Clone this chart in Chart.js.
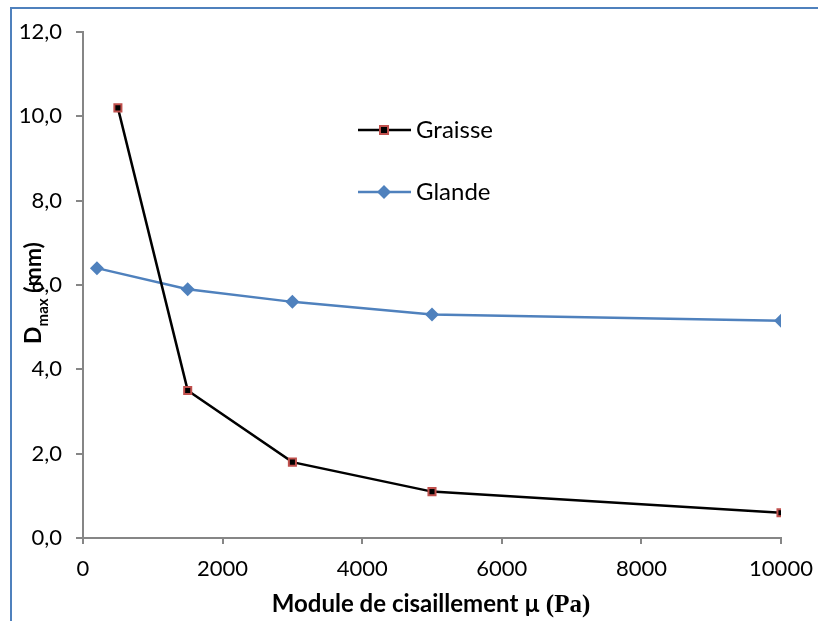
<!DOCTYPE html>
<html>
<head>
<meta charset="utf-8">
<script src="https://cdn.jsdelivr.net/npm/chart.js@4"></script>
<style>
  body { margin: 0; background: #fff; }
  canvas { display: block; }
</style>
</head>
<body>
<canvas id="myChart" width="818" height="621"></canvas>
<script>
var graisseX = [500, 1500, 3000, 5000, 10000];
var graisseY = [10.2, 3.5, 1.8, 1.1, 0.6];
var glandeX = [200, 1500, 3000, 5000, 10000];
var glandeY = [6.4, 5.9, 5.6, 5.3, 5.15];
var seriesNames = ["Graisse", "Glande"];
var xTicks = [0, 2000, 4000, 6000, 8000, 10000];
var yTicks = [0, 2, 4, 6, 8, 10, 12];

function pts(xs, ys) {
    var out = [];
    for (var i = 0; i < xs.length; i++) out.push({x: xs[i], y: ys[i]});
    return out;
}

var axisGrey = "#868686";
var blue = "#4F81BD";
var red = "#C0504D";

// frame, titles and legend drawn by hand
var decor = {
    id: 'decor',
    afterDraw: function(chart) {
        var c = chart.ctx;
        c.save();
        c.strokeStyle = blue;
        c.lineWidth = 2;
        c.beginPath();
        c.moveTo(11, 621);
        c.lineTo(11, 8);
        c.lineTo(818, 8);
        c.stroke();

        // x title
        c.fillStyle = "#000";
        c.textBaseline = "alphabetic";
        var t1 = "Module de cisaillement \u00b5 ";
        var t2 = "(Pa)";
        c.font = "bold 25px 'Liberation Serif'";
        var w2 = c.measureText(t2).width;
        c.font = "bold 24px Lato";
        var w1 = c.measureText(t1).width;
        var x0 = 431 - (w1 + w2) / 2;
        c.textAlign = "left";
        c.fillText(t1, x0, 612);
        c.font = "bold 25px 'Liberation Serif'";
        c.fillText(t2, x0 + w1, 612);

        // y title with subscript
        c.translate(41, 293);
        c.rotate(-Math.PI / 2);
        c.font = "bold 23px Lato";
        var a = "D", b = "max", d = " (mm)";
        var wa = c.measureText(a).width;
        c.font = "bold 15px Lato";
        var wb = c.measureText(b).width;
        c.font = "bold 23px Lato";
        var wd = c.measureText(d).width;
        var sx = -(wa + wb + wd) / 2;
        c.fillText(a, sx, 0);
        c.font = "bold 15px Lato";
        c.fillText(b, sx + wa, 7);
        c.font = "bold 23px Lato";
        c.fillText(d, sx + wa + wb, 0);
        c.restore();

        // legend
        c.save();
        var items = [
            {name: seriesNames[0], y: 130, color: "#000"},
            {name: seriesNames[1], y: 192, color: blue}
        ];
        items.forEach(function(it, i) {
            c.strokeStyle = it.color;
            c.lineWidth = 2.5;
            c.beginPath();
            c.moveTo(358, it.y);
            c.lineTo(411, it.y);
            c.stroke();
            var mx = 384;
            if (i === 0) {
                c.fillStyle = "#000";
                c.strokeStyle = red;
                c.lineWidth = 2;
                c.fillRect(mx - 4, it.y - 4, 8, 8);
                c.strokeRect(mx - 4, it.y - 4, 8, 8);
            } else {
                c.fillStyle = blue;
                c.beginPath();
                c.moveTo(mx, it.y - 7);
                c.lineTo(mx + 7, it.y);
                c.lineTo(mx, it.y + 7);
                c.lineTo(mx - 7, it.y);
                c.closePath();
                c.fill();
            }
            c.fillStyle = "#000";
            c.font = "24px Lato";
            c.textAlign = "left";
            c.textBaseline = "middle";
            c.fillText(it.name, 416, it.y);
        });
        c.restore();
    }
};

var ctx = document.getElementById("myChart");

var myChart = new Chart(ctx, {
    type: 'line',
    data: {
        datasets: [{
            label: seriesNames[0],
            data: pts(graisseX, graisseY),
            borderColor: "#000",
            borderWidth: 2.5,
            pointStyle: 'rect',
            pointRadius: 5,
            pointBackgroundColor: "#000",
            pointBorderColor: red,
            pointBorderWidth: 2
        }, {
            label: seriesNames[1],
            data: pts(glandeX, glandeY),
            borderColor: blue,
            borderWidth: 2.5,
            pointStyle: 'rectRot',
            pointRadius: 7,
            pointBackgroundColor: blue,
            pointBorderColor: blue,
            pointBorderWidth: 0
        }]
    },
    options: {
        responsive: false,
        animation: false,
        layout: { padding: { left: 0, top: 32, right: 37, bottom: 0 } },
        plugins: { legend: { display: false }, tooltip: { enabled: false } },
        scales: {
            x: {
                type: 'linear',
                min: 0, max: 10000,
                afterBuildTicks: function(s) { s.ticks = xTicks.map(function(v) { return {value: v}; }); },
                afterFit: function(s) { s.height = 83; s.paddingLeft = 0; s.paddingRight = 0; },
                border: { color: axisGrey, width: 2 },
                grid: { display: true, drawOnChartArea: false, drawTicks: true, tickLength: 6, color: axisGrey, lineWidth: 2 },
                ticks: {
                    color: "#000", font: { family: "Lato", size: 22 }, padding: 12, maxRotation: 0,
                    callback: function(v) { return String(v); }
                }
            },
            y: {
                min: 0, max: 12,
                afterBuildTicks: function(s) { s.ticks = yTicks.map(function(v) { return {value: v}; }); },
                afterFit: function(s) { s.width = 83; s.paddingTop = 0; s.paddingBottom = 0; },
                border: { color: axisGrey, width: 2 },
                grid: { display: true, drawOnChartArea: false, drawTicks: true, tickLength: 7, color: axisGrey, lineWidth: 2 },
                ticks: {
                    color: "#000", font: { family: "Lato", size: 22 }, padding: 14,
                    callback: function(v) { return v.toFixed(1).replace(".", ","); }
                }
            }
        }
    },
    plugins: [decor]
});
</script>
</body>
</html>
